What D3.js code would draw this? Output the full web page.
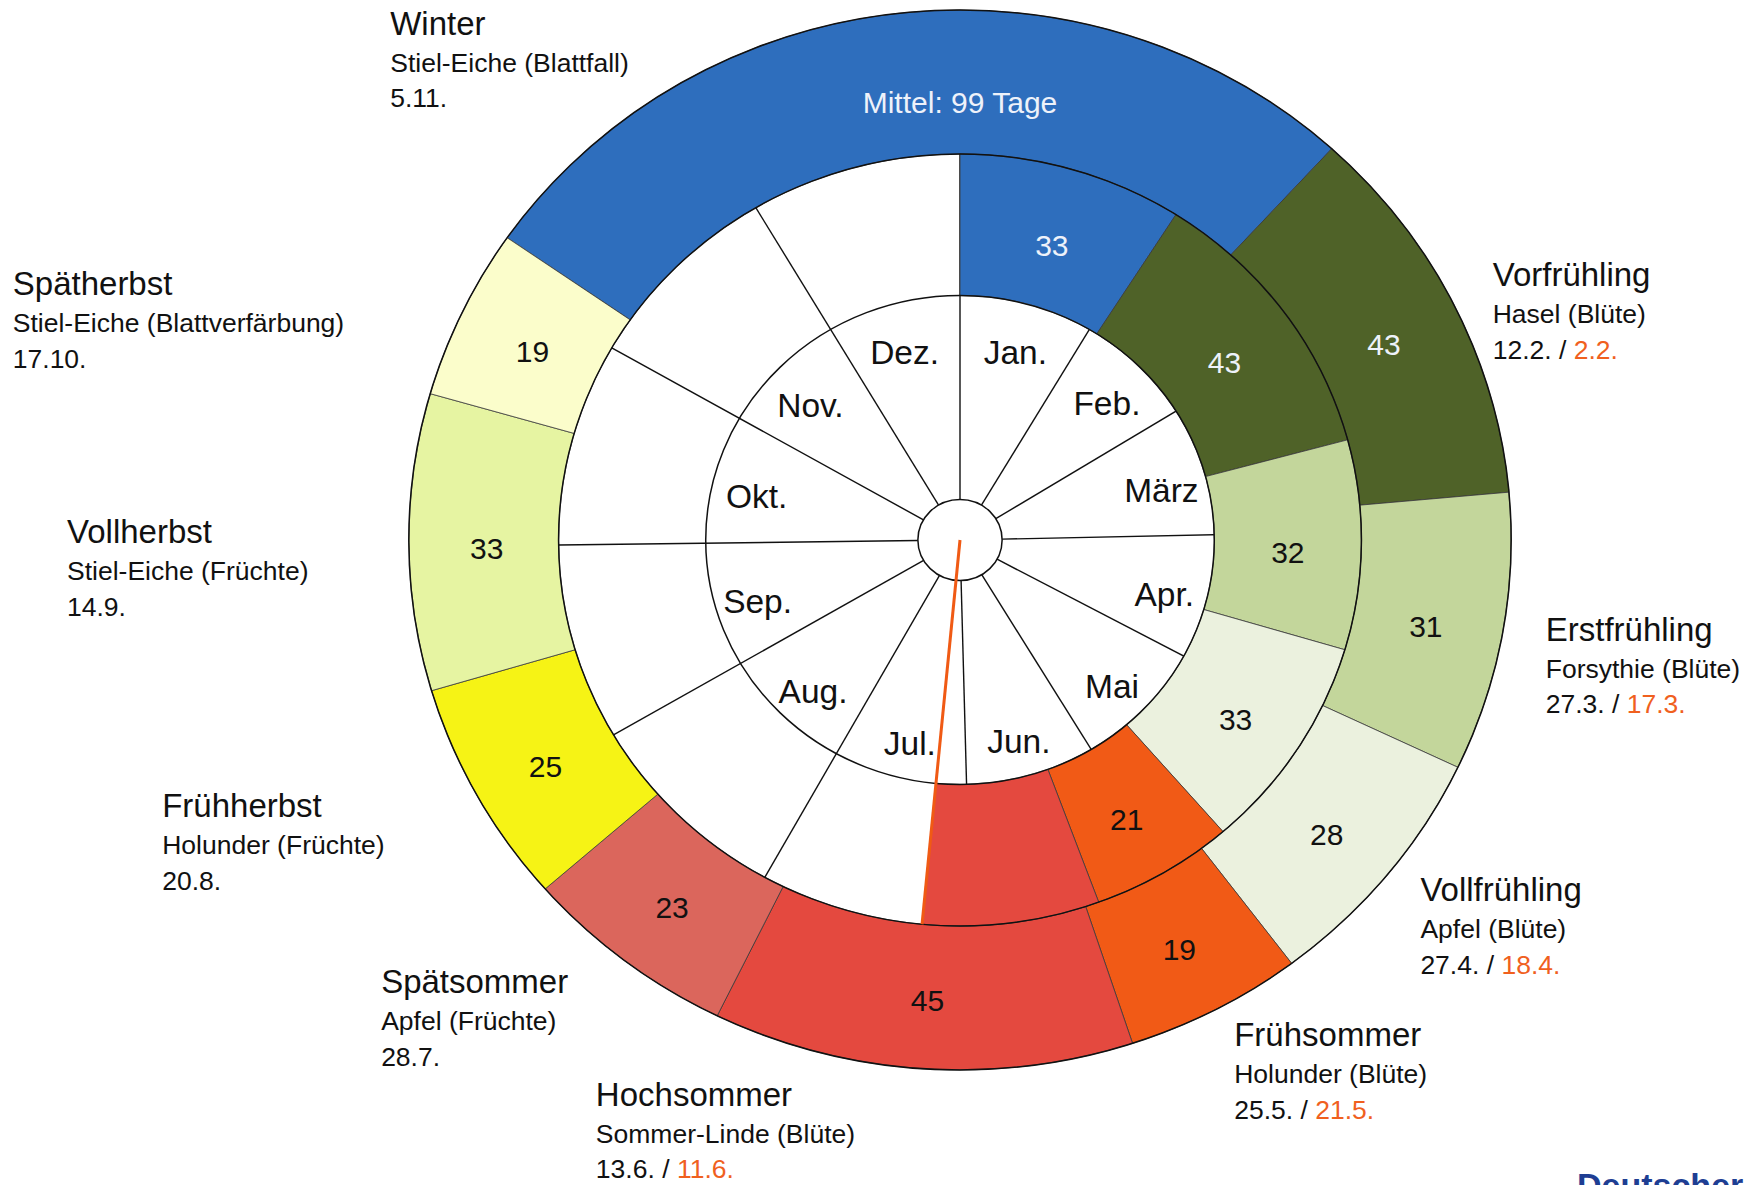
<!DOCTYPE html>
<html lang="de">
<head>
<meta charset="utf-8">
<title>Phänologische Uhr</title>
<script src="https://cdn.jsdelivr.net/npm/d3@7"></script>
<style>
  html, body { margin: 0; padding: 0; background: #fff; overflow: hidden; }
  svg { display: block; font-family: "Liberation Sans", Arial, Helvetica, sans-serif; }
</style>
</head>
<body>
<div id="chart"></div>
<script>
// Phänologische Uhr: outer ring = long-term mean, middle ring = current year

const seasons = ['Winter', 'Vorfrühling', 'Erstfrühling', 'Vollfrühling', 'Frühsommer',
  'Hochsommer', 'Spätsommer', 'Frühherbst', 'Vollherbst', 'Spätherbst'];
const indicators = ['Stiel-Eiche (Blattfall)', 'Hasel (Blüte)', 'Forsythie (Blüte)', 'Apfel (Blüte)',
  'Holunder (Blüte)', 'Sommer-Linde (Blüte)', 'Apfel (Früchte)', 'Holunder (Früchte)',
  'Stiel-Eiche (Früchte)', 'Stiel-Eiche (Blattverfärbung)'];
const seasonColors = ['#2e6ebd', '#4f6228', '#c3d69b', '#ebf1de', '#f15a16',
  '#e4493f', '#db665c', '#f6f315', '#e6f4a2', '#fbfdcb'];

// mean onset dates and durations (outer ring)
const meanOnset = ['5.11.', '12.2.', '27.3.', '27.4.', '25.5.', '13.6.', '28.7.', '20.8.', '14.9.', '17.10.'];
const meanDays = [99, 43, 31, 28, 19, 45, 23, 25, 33, 19];

// current year (middle ring) - winter runs from the start of the year, Hochsommer still ongoing
const currentOnset = [null, '2.2.', '17.3.', '18.4.', '21.5.', '11.6.', null, null, null, null];
const currentDays = [33, 43, 32, 33, 21, null, null, null, null, null];
const today = '7.7.';

const months = ['Jan.', 'Feb.', 'März', 'Apr.', 'Mai', 'Jun.', 'Jul.', 'Aug.', 'Sep.', 'Okt.', 'Nov.', 'Dez.'];
const monthDays = [31, 28, 31, 30, 31, 30, 31, 31, 30, 31, 30, 31];

// ---- layout ----
const width = 1748, height = 1185;
const cx = 960, cy = 540;
const sx = 1.04;            // the dial is slightly wider than tall
const r0 = 40.5, r1 = 244.5, r2 = 386, r3 = 530;
const rCallout = 575;
// callout offsets from their anchor on the mean segment's mid angle
const calloutShift = [[-503, 66], [-3, 2], [-3, 0], [-3, -2], [-3, -3],
  [-323, -8], [-215, -3], [-274, 0], [-295, 1], [-407, 2]];

const monthStart = d3.cumsum([0].concat(monthDays.slice(0, -1)));
const doy = s => {
  const [d, m] = s.split('.').map(Number);
  return monthStart[m - 1] + d;
};

const angle = d3.scaleLinear().domain([0, 365]).range([0, 2 * Math.PI]);
const px = (r, a) => cx + sx * r * Math.sin(a);
const py = (r, a) => cy - r * Math.cos(a);

const meanSeg = seasons.map((s, i) => {
  const start = doy(meanOnset[i]);
  return { i, start, end: start + meanDays[i], days: meanDays[i] };
});

const curSeg = [];
seasons.forEach((s, i) => {
  if (i === 0) {
    curSeg.push({ i, start: 0, end: currentDays[0], days: currentDays[0] });
  } else if (currentOnset[i]) {
    const start = doy(currentOnset[i]);
    const end = currentDays[i] != null ? start + currentDays[i] : doy(today);
    curSeg.push({ i, start, end, days: currentDays[i] });
  }
});

const svg = d3.select('#chart').append('svg')
  .attr('width', width)
  .attr('height', height);

svg.append('rect').attr('width', width).attr('height', height).attr('fill', '#fff');

const dial = svg.append('g')
  .attr('transform', `translate(${cx},${cy}) scale(${sx},1)`);

const arcOuter = d3.arc().innerRadius(r2).outerRadius(r3)
  .startAngle(d => angle(d.start)).endAngle(d => angle(d.end));
const arcMiddle = d3.arc().innerRadius(r1).outerRadius(r2)
  .startAngle(d => angle(d.start)).endAngle(d => angle(d.end));

// outer ring (mean)
dial.append('g').selectAll('path')
  .data(meanSeg)
  .join('path')
  .attr('d', arcOuter)
  .attr('fill', d => seasonColors[d.i])
  .attr('stroke', '#3a3a3a')
  .attr('stroke-width', 0.8)
  .attr('vector-effect', 'non-scaling-stroke');

// month dividers
dial.append('g').selectAll('line')
  .data(monthStart)
  .join('line')
  .attr('x1', d => r0 * Math.sin(angle(d)))
  .attr('y1', d => -r0 * Math.cos(angle(d)))
  .attr('x2', d => r2 * Math.sin(angle(d)))
  .attr('y2', d => -r2 * Math.cos(angle(d)))
  .attr('stroke', '#111')
  .attr('stroke-width', 1.4)
  .attr('vector-effect', 'non-scaling-stroke');

// middle ring (current year)
dial.append('g').selectAll('path')
  .data(curSeg)
  .join('path')
  .attr('d', arcMiddle)
  .attr('fill', d => seasonColors[d.i])
  .attr('stroke', '#3a3a3a')
  .attr('stroke-width', 0.8)
  .attr('vector-effect', 'non-scaling-stroke');

// ring outlines
dial.append('g').selectAll('circle')
  .data([r1, r2, r3])
  .join('circle')
  .attr('r', d => d)
  .attr('fill', 'none')
  .attr('stroke', '#111')
  .attr('stroke-width', 1.5)
  .attr('vector-effect', 'non-scaling-stroke');

dial.append('circle')
  .attr('r', r0)
  .attr('fill', '#fff')
  .attr('stroke', '#111')
  .attr('stroke-width', 1.5)
  .attr('vector-effect', 'non-scaling-stroke');

// current date pointer
dial.append('line')
  .attr('x1', 0).attr('y1', 0)
  .attr('x2', r2 * Math.sin(angle(doy(today))))
  .attr('y2', -r2 * Math.cos(angle(doy(today))))
  .attr('stroke', '#f05a14')
  .attr('stroke-width', 3)
  .attr('vector-effect', 'non-scaling-stroke');

// month labels
svg.append('g').selectAll('text')
  .data(months)
  .join('text')
  .attr('x', (d, i) => px(202, angle(monthStart[i] + monthDays[i] / 2)))
  .attr('y', (d, i) => py(202, angle(monthStart[i] + monthDays[i] / 2)))
  .attr('dy', 19)
  .attr('text-anchor', 'middle')
  .style('font-size', '33.5px')
  .style('fill', '#111')
  .text(d => d);

const textFill = i => d3.lab(seasonColors[i]).l < 50 ? '#eef2fa' : '#111';

// duration labels
const numbers = svg.append('g')
  .attr('text-anchor', 'middle')
  .style('font-size', '30px');

meanSeg.forEach(d => {
  const isWinter = d.i === 0;
  const a = isWinter ? 0 : angle((d.start + d.end) / 2);
  const r = isWinter ? (r2 + r3) / 2 - 14 : (r2 + r3) / 2 - 3;
  numbers.append('text')
    .attr('x', px(r, a))
    .attr('y', py(r, a))
    .attr('dy', 17)
    .style('fill', textFill(d.i))
    .text(isWinter ? `Mittel: ${d.days} Tage` : d.days);
});

curSeg.filter(d => d.days != null).forEach(d => {
  const a = angle((d.start + d.end) / 2);
  const r = (r1 + r2) / 2;
  numbers.append('text')
    .attr('x', px(r, a))
    .attr('y', py(r, a))
    .attr('dy', 19)
    .style('fill', textFill(d.i))
    .text(d.days);
});

// season callouts
const callouts = svg.append('g').style('fill', '#111');
meanSeg.forEach(d => {
  const a = angle((d.start + d.end) / 2);
  const x = px(rCallout, a) + calloutShift[d.i][0];
  const y = py(rCallout, a) + calloutShift[d.i][1];
  const g = callouts.append('g').attr('transform', `translate(${x},${y})`);

  g.append('text')
    .style('font-size', '33px')
    .text(seasons[d.i]);

  g.append('text')
    .attr('y', 37)
    .style('font-size', '26.5px')
    .text(indicators[d.i]);

  const dateText = g.append('text')
    .attr('y', 72.5)
    .style('font-size', '26.5px');
  dateText.append('tspan').text(meanOnset[d.i]);
  if (currentOnset[d.i]) {
    dateText.append('tspan').text(' / ');
    dateText.append('tspan').style('fill', '#f0601e').text(currentOnset[d.i]);
  }
});

// source logo text (cut off at the bottom edge, as in the original)
svg.append('text')
  .attr('x', 1577)
  .attr('y', 1197)
  .style('font-size', '34px')
  .style('font-weight', 'bold')
  .style('fill', '#1e3e93')
  .text('Deutscher Wetterdienst');
</script>
</body>
</html>
